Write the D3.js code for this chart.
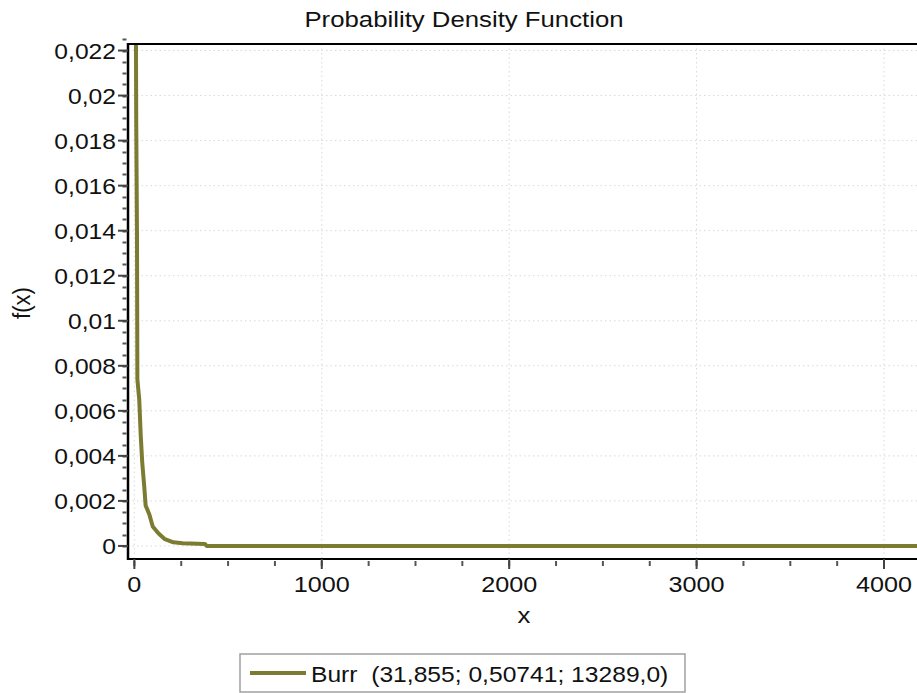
<!DOCTYPE html>
<html>
<head>
<meta charset="utf-8">
<script src="https://cdn.jsdelivr.net/npm/d3@7"></script>
<style>
  html, body { margin: 0; padding: 0; background: #fff; }
  svg { display: block; }
  text { font-family: "Liberation Sans", Arial, sans-serif; fill: #111; white-space: pre; }
</style>
</head>
<body>
<svg id="chart" width="917" height="693"></svg>
<script>
// ---- data ----
const chartTitle = "Probability Density Function";
const xAxisTitle = "x";
const yAxisTitle = "f(x)";
const seriesName = "Burr  (31,855; 0,50741; 13289,0)";

// density curve, x values and f(x) values
const curveX = [7.5, 8.5, 10, 14, 16, 26, 34, 42, 53, 60, 80, 98, 128, 163, 208, 258, 377, 386, 4200];
const curveY = [0.0235, 0.0223, 0.0188, 0.0137, 0.0074, 0.0065, 0.0049, 0.0037, 0.0026, 0.0018, 0.0014, 0.00086, 0.00056, 0.0003, 0.00016, 0.00012, 0.00009, 0, 0];

const xTicks = [0, 1000, 2000, 3000, 4000];
const xMinorTicks = d3.range(0, 4176, 250);
const yTicks = [0, 0.002, 0.004, 0.006, 0.008, 0.01, 0.012, 0.014, 0.016, 0.018, 0.02, 0.022];
const yMinorTicks = d3.range(0, 0.02251, 0.0005);

// ---- layout ----
const plot = { left: 128, right: 917, top: 44, bottom: 559 };
const lineColor = "#7b7b31";
const textStretch = 1.12;   // wide-set glyphs

const svg = d3.select("#chart");

const x = d3.scaleLinear().domain([-34, 4176]).range([plot.left, plot.right]);
const y = d3.scaleLinear().domain([-0.00058, 0.02229]).range([plot.bottom, plot.top]);

const locale = d3.formatLocale({ decimal: ",", thousands: "", grouping: [3], currency: ["", ""] });
const fmtY = locale.format(".3~f");
const fmtX = locale.format("d");

function stretchedText(parent, px, py, str, size, anchor, rotate) {
  const g = parent.append("g")
    .attr("transform", `translate(${px},${py}) scale(${textStretch},1)` + (rotate ? ` rotate(${rotate})` : ""));
  g.append("text")
    .attr("text-anchor", anchor)
    .attr("xml:space", "preserve")
    .style("font-size", size + "px")
    .text(str);
  return g;
}

// grid
const grid = svg.append("g");
grid.selectAll("line.gx").data(xTicks).join("line")
  .attr("x1", d => x(d)).attr("x2", d => x(d))
  .attr("y1", plot.top).attr("y2", plot.bottom)
  .attr("stroke", "#d9d9d9").attr("stroke-width", 1).attr("stroke-dasharray", "1.5,3");
grid.selectAll("line.gy").data(yTicks).join("line")
  .attr("x1", plot.left).attr("x2", plot.right)
  .attr("y1", d => y(d)).attr("y2", d => y(d))
  .attr("stroke", "#d9d9d9").attr("stroke-width", 1).attr("stroke-dasharray", "1.5,3");

// curve
svg.append("clipPath").attr("id", "plotClip").append("rect")
  .attr("x", plot.left + 1).attr("y", plot.top + 1)
  .attr("width", plot.right - plot.left).attr("height", plot.bottom - plot.top - 2);

const pts = curveX.map((v, i) => [v, curveY[i]]);
svg.append("path")
  .datum(pts)
  .attr("clip-path", "url(#plotClip)")
  .attr("fill", "none")
  .attr("stroke", lineColor)
  .attr("stroke-width", 4)
  .attr("stroke-linejoin", "round")
  .attr("d", d3.line().x(d => x(d[0])).y(d => y(d[1])));

// frame / axes lines
svg.append("line").attr("x1", plot.left).attr("x2", plot.right).attr("y1", plot.top).attr("y2", plot.top)
  .attr("stroke", "#000").attr("stroke-width", 2);
svg.append("line").attr("x1", plot.left).attr("x2", plot.left).attr("y1", plot.top - 1).attr("y2", plot.bottom + 1)
  .attr("stroke", "#000").attr("stroke-width", 2.5);
svg.append("line").attr("x1", plot.left - 1).attr("x2", plot.right).attr("y1", plot.bottom).attr("y2", plot.bottom)
  .attr("stroke", "#000").attr("stroke-width", 2);

// y ticks
svg.append("g").selectAll("line").data(yMinorTicks).join("line")
  .attr("x1", plot.left - 5.5).attr("x2", plot.left - 1.5)
  .attr("y1", d => Math.round(y(d)) + 0.5).attr("y2", d => Math.round(y(d)) + 0.5)
  .attr("stroke", "#555").attr("stroke-width", 2);
svg.append("g").selectAll("line").data(yTicks).join("line")
  .attr("x1", plot.left - 10).attr("x2", plot.left)
  .attr("y1", d => y(d)).attr("y2", d => y(d))
  .attr("stroke", "#444").attr("stroke-width", 2);
const yLab = svg.append("g");
yTicks.forEach(t => stretchedText(yLab, 116, y(t) + 8, fmtY(t), 22, "end"));

// x ticks
svg.append("g").selectAll("line").data(xMinorTicks).join("line")
  .attr("x1", d => x(d)).attr("x2", d => x(d))
  .attr("y1", plot.bottom + 2).attr("y2", plot.bottom + 7)
  .attr("stroke", "#555").attr("stroke-width", 2);
svg.append("g").selectAll("line").data(xTicks).join("line")
  .attr("x1", d => x(d)).attr("x2", d => x(d))
  .attr("y1", plot.bottom).attr("y2", plot.bottom + 10)
  .attr("stroke", "#444").attr("stroke-width", 2);
const xLab = svg.append("g");
xTicks.forEach(t => stretchedText(xLab, x(t), 592, fmtX(t), 22.5, "middle"));

// titles
stretchedText(svg, 464, 27, chartTitle, 23, "middle");
stretchedText(svg, 524, 623, xAxisTitle, 23, "middle");
stretchedText(svg, 30, 303, yAxisTitle, 22, "middle", -90);

// legend
const legend = svg.append("g");
legend.append("rect").attr("x", 240).attr("y", 654).attr("width", 445).attr("height", 38)
  .attr("fill", "#fff").attr("stroke", "#a0a0a0").attr("stroke-width", 1.5);
legend.append("line").attr("x1", 250).attr("x2", 306).attr("y1", 673).attr("y2", 673)
  .attr("stroke", lineColor).attr("stroke-width", 4);
stretchedText(legend, 311, 681.5, seriesName, 22, "start");
</script>
</body>
</html>
